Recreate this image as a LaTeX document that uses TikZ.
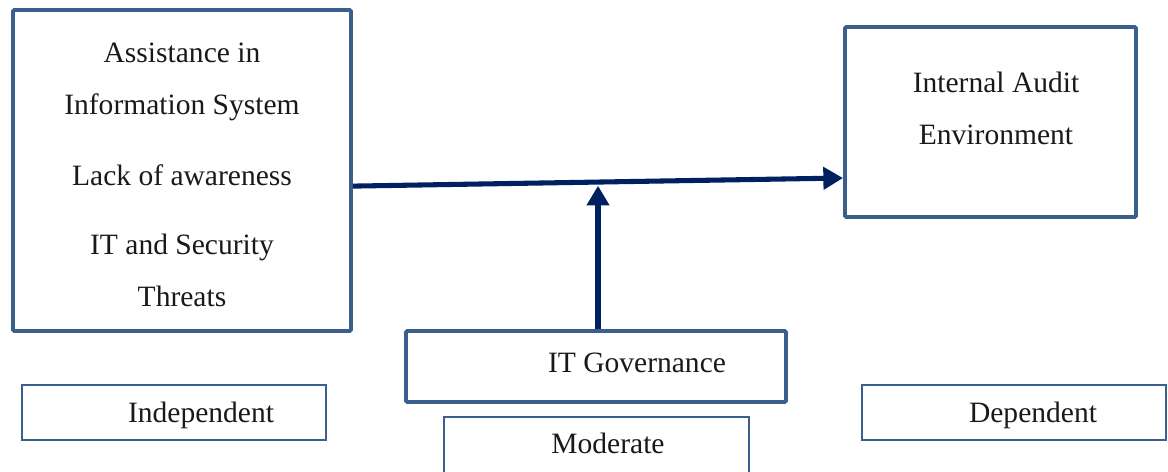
\documentclass[tikz,border=0pt]{standalone}
\usepackage{fontspec}
\setmainfont{Liberation Serif}
\usetikzlibrary{arrows.meta}
\usetikzlibrary{positioning}
\definecolor{boxblue}{HTML}{3A5F8D}
\definecolor{navy}{HTML}{002060}
\tikzset{
	thickbox/.style={draw=boxblue,line width=2.8pt,rounded corners=1pt,inner sep=0pt},
	thinbox/.style={draw=boxblue,line width=1pt,inner sep=0pt},
	txt/.style={font=\fontsize{21}{36.9}\selectfont,align=center,inner sep=0pt,text=black!90},
	flow/.style={draw=navy,line width=3.6pt,-{Triangle[length=14pt,width=15.5pt]}}
}
\begin{document}
\begin{tikzpicture}[x=0.025cm,y=-0.025cm]
		\useasboundingbox (0,0) rectangle (1168,472);
		
		% variable boxes
		\node[thickbox,minimum width=338*0.025cm,minimum height=321*0.025cm] (indepbox) at (182,170.5) {};
		\node[thickbox,minimum width=291*0.025cm,minimum height=190*0.025cm] (depbox) at (990.5,122) {};
		\node[thickbox,minimum width=380*0.025cm,minimum height=71*0.025cm] (modbox) at (596,366.5) {};
		
		% texts in the boxes
		\node[txt] (indeptext) at (182,175) {Assistance in\\Information System\\[13.4pt]Lack of awareness\\[12.7pt]IT and Security\\Threats};
		\node[txt] (deptext) at (996,108.5) {Internal Audit\\Environment};
		\node[txt] (modtext) at (637,363) {IT Governance};
		
		% captions
		\node[thinbox,minimum width=304*0.025cm,minimum height=55*0.025cm] (indepcap) at (174,412.5) {};
		\node[thinbox,minimum width=304*0.025cm,minimum height=55*0.025cm] (depcap) at (1014,412.5) {};
		\node[thinbox,minimum width=305*0.025cm,minimum height=80*0.025cm] (modcap) at (596.5,457) {};
		\node[txt] (indepcaptext) at (201,415) {Independent};
		\node[txt] (depcaptext) at (1033,415) {Dependent};
		\node[txt] (modcaptext) at (608,443) {Moderate};
		
		% arrows
		\draw[flow] ([yshift=-0.39cm]indepbox.east) -- ([yshift=-1.4cm]depbox.east -| depbox.west) coordinate[pos=0.5] (meet);
		\draw[flow,shorten >=2.6pt] (modbox.north -| meet) -- (meet);
	\end{tikzpicture}
\end{document}
